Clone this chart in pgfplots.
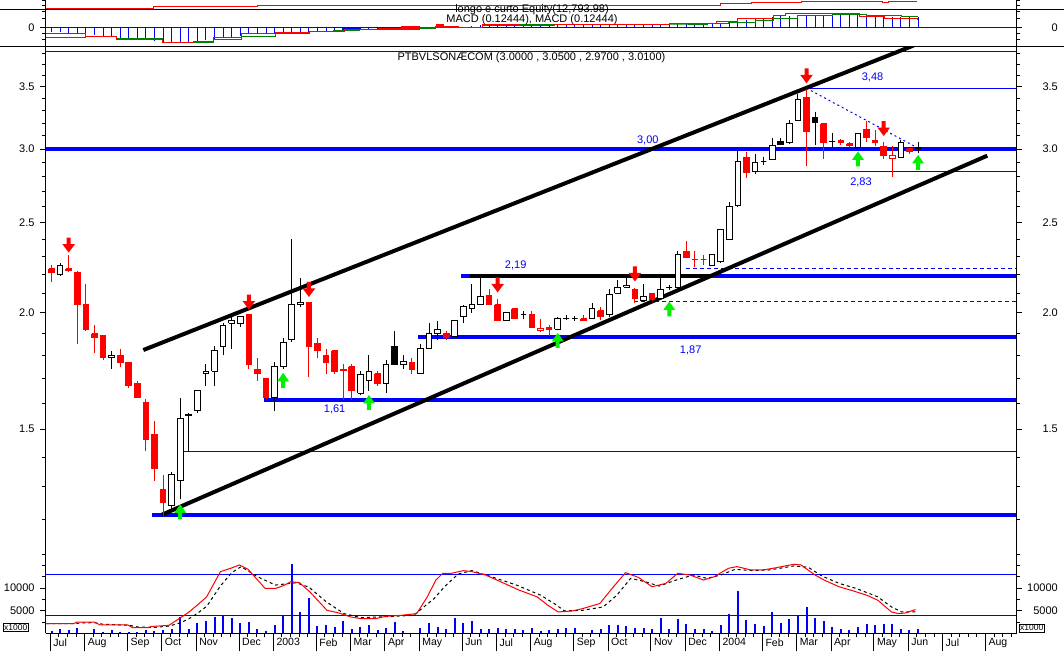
\documentclass[border=0pt]{standalone}
\usepackage{fontspec}
\setmainfont{Liberation Sans}
\usepackage{pgfplots}
\usepackage{pgfplotstable}
\pgfplotsset{compat=1.18}

\definecolor{sigup}{RGB}{0,240,0}
\newcommand\tickfont{\fontsize{11}{13}\selectfont}
\newcommand\monfont{\fontsize{10.5}{12}\selectfont}

% block arrows used as plot marks
\pgfdeclareplotmark{dnarrow}{%
  \pgfpathmoveto{\pgfqpoint{-2pt}{7.5pt}}%
  \pgfpathlineto{\pgfqpoint{2pt}{7.5pt}}%
  \pgfpathlineto{\pgfqpoint{2pt}{1pt}}%
  \pgfpathlineto{\pgfqpoint{6.3pt}{1pt}}%
  \pgfpathlineto{\pgfqpoint{0pt}{-7.5pt}}%
  \pgfpathlineto{\pgfqpoint{-6.3pt}{1pt}}%
  \pgfpathlineto{\pgfqpoint{-2pt}{1pt}}%
  \pgfpathclose\pgfusepathqfill}
\pgfdeclareplotmark{uparrow}{%
  \pgfpathmoveto{\pgfqpoint{-2pt}{-7.5pt}}%
  \pgfpathlineto{\pgfqpoint{2pt}{-7.5pt}}%
  \pgfpathlineto{\pgfqpoint{2pt}{-1pt}}%
  \pgfpathlineto{\pgfqpoint{6pt}{-1pt}}%
  \pgfpathlineto{\pgfqpoint{0pt}{7.5pt}}%
  \pgfpathlineto{\pgfqpoint{-6pt}{-1pt}}%
  \pgfpathlineto{\pgfqpoint{-2pt}{-1pt}}%
  \pgfpathclose\pgfusepathqfill}

% weekly candles; t: 0 up (hollow), 1 down (red), 2 black, 3 red hollow
\pgfplotstableread{
k O H L C t
0 2.23 2.25 2.16 2.21 1
1 2.20 2.26 2.19 2.25 0
2 2.23 2.31 2.21 2.22 1
3 2.21 2.22 1.85 2.04 1
4 2.04 2.15 1.91 1.92 1
5 1.90 1.94 1.81 1.88 1
6 1.89 1.89 1.78 1.79 1
7 1.79 1.82 1.74 1.80 0
8 1.80 1.83 1.75 1.77 1
9 1.77 1.77 1.66 1.67 1
10 1.68 1.69 1.62 1.62 1
11 1.60 1.615 1.42 1.46 1
12 1.48 1.53 1.32 1.36 1
13 1.29 1.34 1.21 1.25 1
14 1.24 1.35 1.23 1.34 0
15 1.32 1.62 1.26 1.54 0
16 1.55 1.56 1.42 1.555 0
17 1.57 1.65 1.56 1.65 0
18 1.72 1.76 1.67 1.73 0
19 1.73 1.84 1.67 1.82 0
20 1.84 1.95 1.80 1.94 0
21 1.95 1.99 1.83 1.96 0
22 1.95 1.98 1.93 1.98 0
23 1.99 1.99 1.74 1.76 1
24 1.74 1.79 1.69 1.72 1
25 1.70 1.70 1.615 1.62 1
26 1.62 1.77 1.57 1.75 0
27 1.75 1.88 1.74 1.86 0
28 1.87 2.40 1.86 2.04 0
29 2.04 2.18 2.03 2.05 0
30 2.05 2.05 1.705 1.84 1
31 1.855 1.88 1.79 1.82 1
32 1.80 1.83 1.72 1.77 1
33 1.82 1.82 1.72 1.73 1
34 1.74 1.76 1.61 1.735 1
35 1.75 1.76 1.61 1.65 1
36 1.64 1.73 1.63 1.715 0
37 1.69 1.80 1.65 1.73 0
38 1.72 1.73 1.67 1.68 1
39 1.68 1.78 1.64 1.76 0
40 1.84 1.91 1.76 1.76 2
41 1.76 1.80 1.74 1.775 0
42 1.77 1.79 1.72 1.74 1
43 1.72 1.85 1.72 1.83 0
44 1.83 1.95 1.83 1.90 0
45 1.90 1.96 1.87 1.92 0
46 1.90 1.91 1.87 1.88 1
47 1.885 1.96 1.885 1.96 0
48 1.98 2.04 1.95 2.03 0
49 2.02 2.15 2.00 2.04 0
50 2.04 2.18 2.04 2.08 0
51 2.09 2.12 2.04 2.04 1
52 2.04 2.07 1.96 1.96 1
53 1.96 2.00 1.96 2.00 0
54 2.02 2.02 1.97 1.97 1
55 1.99 2.01 1.97 1.99 0
56 1.99 2.01 1.93 1.93 1
57 1.925 1.97 1.905 1.915 3
58 1.93 1.94 1.89 1.92 1
59 1.92 1.98 1.915 1.97 0
60 1.973 1.99 1.965 1.973 0
61 1.97 1.986 1.962 1.97 0
62 1.97 1.99 1.96 1.96 1
63 1.97 2.05 1.97 2.02 0
64 2.01 2.03 1.965 1.98 1
65 1.99 2.12 1.98 2.095 0
66 2.10 2.17 2.10 2.13 0
67 2.13 2.18 2.13 2.14 0
68 2.12 2.125 2.05 2.07 1
69 2.06 2.15 2.055 2.08 0
70 2.10 2.10 2.06 2.065 1
71 2.07 2.18 2.065 2.12 0
72 2.13 2.14 2.115 2.13 0
73 2.13 2.33 2.125 2.31 0
74 2.33 2.39 2.295 2.295 1
75 2.28 2.33 2.24 2.28 1
76 2.28 2.31 2.25 2.28 1
77 2.25 2.31 2.25 2.31 0
78 2.27 2.46 2.265 2.455 0
79 2.40 2.63 2.40 2.605 0
80 2.61 2.99 2.60 2.91 0
81 2.94 2.975 2.79 2.83 1
82 2.84 2.96 2.82 2.90 0
83 2.91 2.94 2.88 2.91 0
84 2.92 3.08 2.92 3.025 0
85 3.06 3.08 3.03 3.03 2
86 3.045 3.22 3.04 3.195 0
87 3.22 3.44 3.215 3.39 0
88 3.41 3.48 2.875 3.13 1
89 3.24 3.29 3.03 3.20 2
90 3.195 3.195 2.925 3.05 1
91 3.054 3.118 3.013 3.054 2
92 3.065 3.075 3.03 3.05 1
93 3.04 3.055 3.015 3.025 1
94 3.01 3.12 3.01 3.12 0
95 3.15 3.215 3.055 3.09 1
96 3.065 3.145 3.02 3.045 1
97 3.02 3.055 2.925 2.955 1
98 2.955 3.02 2.80 2.93 3
99 2.94 3.065 2.94 3.05 0
100 3.00 3.01 2.96 2.98 1
101 3.00 3.05 2.97 3.01 0
}\ohlc

% turn every row into a wick and a body, both drawn with \addplot
\def\candles{}
\foreach \r in {0,...,101}{%
  \pgfplotstablegetelem{\r}{O}\of\ohlc \let\vO\pgfplotsretval
  \pgfplotstablegetelem{\r}{H}\of\ohlc \let\vH\pgfplotsretval
  \pgfplotstablegetelem{\r}{L}\of\ohlc \let\vL\pgfplotsretval
  \pgfplotstablegetelem{\r}{C}\of\ohlc \let\vC\pgfplotsretval
  \pgfplotstablegetelem{\r}{t}\of\ohlc \let\vT\pgfplotsretval
  \def\wc{black}\def\fc{white}%
  \ifnum\vT=1 \def\wc{red}\def\fc{red}\fi
  \ifnum\vT=2 \def\wc{black}\def\fc{black}\fi
  \ifnum\vT=3 \def\wc{red}\def\fc{white}\fi
  \pgfmathsetmacro\xa{\r-0.33}%
  \pgfmathsetmacro\xb{\r+0.33}%
  \xdef\candles{\unexpanded\expandafter{\candles}%
    \noexpand\addplot[draw=\wc, line width=1pt] coordinates {(\r,\vL) (\r,\vH)};%
    \noexpand\addplot[draw=\wc, fill=\fc, line width=1pt] coordinates {(\xa,\vO) (\xb,\vO) (\xb,\vC) (\xa,\vC) (\xa,\vO)};}%
}

% volume, x1000
\pgfplotstableread{
k v
0 500
1 880
2 730
3 1170
5 880
6 300
7 730
8 300
9 360
10 360
11 750
12 600
13 750
14 880
15 3536
16 1000
17 2210
18 2775
19 3525
20 4125
21 3300
22 2175
23 2400
24 1050
25 525
26 1800
27 3900
28 15340
29 4650
30 7875
31 1650
32 1800
33 1425
34 2625
35 1050
36 1350
37 1800
38 675
39 1125
40 2400
41 525
43 1275
44 2175
45 1350
46 900
47 3300
48 2175
49 2625
50 900
51 1050
52 1275
53 900
54 900
55 675
56 1275
57 525
58 675
59 900
60 1125
61 1125
63 825
64 1050
65 1800
66 1800
67 1575
68 1125
69 1125
70 900
71 3375
72 1050
73 3150
74 2025
75 900
76 900
77 525
78 1800
79 4200
80 9450
81 2925
82 2025
83 1650
84 4800
85 2250
86 3150
87 3750
88 5775
89 3375
90 2775
91 1350
92 1050
93 675
94 1350
95 2025
96 1800
97 2025
98 2025
99 900
100 675
101 1050
}\vol

% oscillator (solid red) and its average (dashed black)
\pgfplotstableread{
k v
-0.6 2117
2.6 2117
2.9 2490
5.0 2490
5.6 1890
8.85 1890
9.45 1230
11.25 1230
11.65 1520
13.66 1745
14.86 3230
15.87 4490
16.88 6050
18.08 8060
19.69 13630
20.89 14370
21.9 15110
22.9 14150
24.9 9910
26.1 9910
26.9 10430
27.9 11400
28.9 11180
30.1 9170
32.1 5090
33.5 4490
34.9 3600
36.1 3230
37.75 3230
38.95 3750
40.75 3970
42.56 4350
43.8 8060
44.8 11770
45.6 13260
46.6 13260
48.0 13850
49.0 13630
50.6 12880
52.6 11180
54.4 9620
56.6 8060
57.85 6200
59.05 4720
60.7 4940
61.9 5460
63.9 6570
65.5 10290
66.9 13400
68.4 12360
70.0 10290
71.6 11030
73.0 13260
74.4 12880
76.0 11770
77.25 12510
78.9 14370
79.9 14740
81.5 14000
82.9 14000
84.1 14370
86.55 15260
87.35 15110
89.0 12880
90.2 11620
91.8 10290
93.4 9390
95.0 8430
96.3 7320
97.9 4720
98.7 4350
99.5 4490
100.7 5240
}\stk

\pgfplotstableread{
k v
-0.6 2120
2.6 2120
3.5 2300
5.0 2350
6.0 2000
9.0 1800
10.0 1400
12.0 1300
13.7 1600
15.0 2300
16.0 3200
17.0 4400
18.1 6000
19.7 10500
21.0 13400
22.1 14740
24.0 12500
26.1 10660
28.5 11180
30.0 10200
32.0 7000
34.1 4350
36.1 3450
42.2 3970
44.6 7690
45.8 10290
47.4 13110
49.0 13850
51.0 12660
54.2 10660
57.0 8430
58.6 6570
59.8 4940
61.9 5090
64.3 5830
65.9 8430
67.5 12140
69.2 11400
70.8 10430
72.8 11770
74.8 12880
76.4 12140
78.0 12880
79.7 14150
81.7 13850
83.7 14000
86.55 14890
88.2 14590
89.8 12660
91.8 11030
93.8 9910
96.3 8060
97.9 5830
99.1 4720
100.7 4720
}\std

% MACD panel
\pgfplotstableread{
k v
0 -0.059
1 -0.068
2 -0.073
3 -0.082
4 -0.096
5 -0.105
6 -0.119
7 -0.128
8 -0.138
9 -0.151
10 -0.165
11 -0.174
12 -0.183
13 -0.197
14 -0.197
15 -0.197
16 -0.197
17 -0.183
18 -0.174
19 -0.160
20 -0.142
21 -0.128
22 -0.110
23 -0.091
24 -0.082
25 -0.073
26 -0.073
27 -0.073
28 -0.082
29 -0.082
30 -0.068
31 -0.059
32 -0.045
33 -0.045
34 -0.036
35 -0.036
36 -0.036
37 -0.027
38 -0.027
39 -0.027
40 -0.017
41 -0.013
42 -0.010
43 -0.008
44 -0.008
45 -0.004
46 -0.002
47 0.002
48 0.009
49 0.019
50 0.024
51 0.028
52 0.030
53 0.030
54 0.030
55 0.030
56 0.030
57 0.032
58 0.033
59 0.035
60 0.037
61 0.038
62 0.040
63 0.042
64 0.043
65 0.044
66 0.044
67 0.044
68 0.044
69 0.044
70 0.044
71 0.044
72 0.044
73 0.050
74 0.055
75 0.060
76 0.063
77 0.063
78 0.063
79 0.077
80 0.091
81 0.100
82 0.114
83 0.123
84 0.137
85 0.147
86 0.156
87 0.170
88 0.170
89 0.170
90 0.170
91 0.170
92 0.161
93 0.161
94 0.161
95 0.161
96 0.147
97 0.137
98 0.137
99 0.137
100 0.137
101 0.137
}\macdh

\pgfplotstableread{
k v
-0.64 -0.082
4.0 -0.128
7.6 -0.151
12.9 -0.197
15.7 -0.197
18.9 -0.165
22.1 -0.119
26.1 -0.082
30.1 -0.059
32.9 -0.045
35.9 -0.027
41.0 -0.022
44.8 -0.004
47.4 0.001
50.2 0.019
54.6 0.031
58.6 0.031
65.9 0.044
72.0 0.044
76.4 0.054
78.9 0.063
82.1 0.091
84.1 0.123
86.95 0.155
91.0 0.170
95.0 0.161
99.1 0.147
100.9 0.138
}\macdg

\pgfplotstableread{
k v
-0.64 -0.138
4.0 -0.119
7.6 -0.165
12.9 -0.206
15.7 -0.206
16.5 -0.188
18.9 -0.138
22.1 -0.082
26.1 -0.068
30.1 -0.050
34.2 -0.027
38.1 -0.017
41.0 -0.008
44.8 0.010
47.4 0.001
50.2 0.037
54.6 0.021
58.6 0.040
65.9 0.040
72.0 0.054
77.5 0.076
80.0 0.114
84.1 0.161
85.6 0.183
91.0 0.179
94.2 0.147
97.1 0.123
100.9 0.100
}\macdr

\pgfplotstableread{
k v
-0.7 0.258
11.83 0.276
23.95 0.285
39.8 0.298
78.0 0.318
81.6 0.330
87.4 0.342
96.9 0.338
97.5 0.346
100.9 0.346
}\equity

\pgfplotsset{
  panel/.style={scale only axis, anchor=south west, width=971pt,
    xmin=-0.68, xmax=112.5, axis x line=none, scaled y ticks=false,
    tick align=outside, major tick length=5.5pt, minor tick length=3.5pt,
    tick style={black, line width=0.8pt},
    axis line style={line width=1pt},
    yticklabel style={font=\tickfont}},
  lpanel/.style={panel, axis y line*=left,
    yticklabel style={anchor=east, inner sep=0pt, xshift=-5.5pt}},
  rpanel/.style={panel, axis y line*=right,
    yticklabel style={anchor=east, inner sep=0pt, xshift=35.8pt}},
  bare/.style={scale only axis, anchor=south west, width=971pt,
    xmin=-0.68, xmax=112.5, axis lines=none},
}

\begin{document}
\begin{tikzpicture}
\path[use as bounding box] (0pt,0pt) rectangle (1064pt,651pt);

% ---------- volume / oscillator ----------
\begin{axis}[lpanel, at={(45.7pt,17.7pt)}, height=88.3pt, ymin=0, ymax=19514,
    ytick={5000,10000}, yticklabels={5000,10000},
    minor ytick={2500,7500,12500,15000,17500}]
  \addplot[blue, line width=1pt] coordinates {(-0.68,12900) (112.5,12900)};
  \addplot[blue, line width=1pt] coordinates {(-0.68,4000) (112.5,4000)};
  \addplot[blue, ycomb, line width=2pt] table[x=k, y=v] {\vol};
  \addplot[black, line width=1pt, dash pattern=on 3pt off 3pt] table[x=k, y=v] {\std};
  \addplot[red, line width=1pt] table[x=k, y=v] {\stk};
\end{axis}
\begin{axis}[rpanel, at={(45.7pt,17.7pt)}, height=88.3pt, ymin=0, ymax=19514,
    ytick={5000,10000}, yticklabels={5000,10000},
    minor ytick={2500,7500,12500,15000,17500}]
  \addplot[draw=none] coordinates {(0,1000) (1,1000)};
\end{axis}
\begin{axis}[scale only axis, anchor=south west, at={(45.7pt,17.7pt)}, width=971pt, height=88.3pt,
    xmin=-0.68, xmax=112.5, ymin=0, ymax=1,
    axis y line=none, axis x line*=bottom, axis line style={line width=1pt},
    tick align=outside, major tick length=18pt, minor tick length=4pt,
    tick style={black, line width=0.8pt},
    xtick={-0.15,3.85,8.85,12.85,16.85,21.85,25.85,30.85,34.85,38.85,42.85,47.85,51.85,55.85,60.85,64.85,69.85,73.85,77.85,82.85,86.85,90.85,95.85,99.85,103.85,108.85},
    xticklabels={Jul,Aug,Sep,Oct,Nov,Dec,2003,Feb,Mar,Apr,May,Jun,Jul,Aug,Sep,Oct,Nov,Dec,2004,Feb,Mar,Apr,May,Jun,Jul,Aug},
    minor xtick={-0.15,0.85,...,111.85},
    xticklabel style={font=\monfont, anchor=north west, inner sep=0pt, xshift=3pt, yshift=13pt}]
  \addplot[draw=none] coordinates {(0,0.5) (1,0.5)};
\end{axis}

% ---------- price: levels ----------
\begin{axis}[lpanel, at={(45.7pt,91pt)}, height=513.3pt, ymode=log,
    ymin=1.0847, ymax=3.865,
    ytick={1.5,2,2.5,3,3.5}, yticklabels={1.5,2.0,2.5,3.0,3.5},
    minor ytick={1.1,1.2,1.3,1.4,1.6,1.7,1.8,1.9,2.1,2.2,2.3,2.4,2.6,2.7,2.8,2.9,3.1,3.2,3.3,3.4,3.6,3.7,3.8}]
  \addplot[blue, line width=1pt] coordinates {(-0.68,3.817) (112.5,3.817)};
  \addplot[blue, line width=4pt] coordinates {(-0.68,3.0) (112.5,3.0)};
  \addplot[blue, line width=4pt] coordinates {(47.7,2.19) (112.5,2.19)};
  \addplot[blue, line width=4pt] coordinates {(42.75,1.883) (112.5,1.883)};
  \addplot[blue, line width=4pt] coordinates {(24.77,1.612) (112.5,1.612)};
  \addplot[blue, line width=4pt] coordinates {(11.75,1.213) (112.5,1.213)};
  \addplot[blue, line width=1pt] coordinates {(88,3.487) (112.5,3.487)};
  \addplot[blue, line width=1pt] coordinates {(81.8,2.84) (112.5,2.84)};
  \addplot[blue, line width=1pt] coordinates {(14.9,1.42) (112.5,1.42)};
  \addplot[blue, line width=1pt, dash pattern=on 4pt off 3pt] coordinates {(74.0,2.233) (112.5,2.233)};
  \addplot[blue, line width=1pt, dash pattern=on 4pt off 3pt] coordinates {(67.9,2.056) (112.5,2.056)};
  \addplot[blue, line width=1pt, dash pattern=on 2pt off 3pt] coordinates {(88,3.487) (100.8,3.013)};
  \addplot[black, line width=4pt] coordinates {(48.8,2.19) (76.7,2.19)};
  \addplot[black, line width=4pt] coordinates {(10.7,1.824) (100.5,3.877)};
  \addplot[black, line width=4pt] coordinates {(12.84,1.213) (109.07,2.951)};
\end{axis}
\begin{axis}[rpanel, at={(45.7pt,91pt)}, height=513.3pt, ymode=log,
    ymin=1.0847, ymax=3.865,
    ytick={1.5,2,2.5,3,3.5}, yticklabels={1.5,2.0,2.5,3.0,3.5},
    minor ytick={1.1,1.2,1.3,1.4,1.6,1.7,1.8,1.9,2.1,2.2,2.3,2.4,2.6,2.7,2.8,2.9,3.1,3.2,3.3,3.4,3.6,3.7,3.8}]
  \addplot[draw=none] coordinates {(0,2) (1,2)};
\end{axis}

% ---------- price: candles ----------
\begin{axis}[bare, at={(45.7pt,91pt)}, height=513.3pt, ymode=log, ymin=1.0847, ymax=3.865]
  \candles
\end{axis}

% ---------- price: signals ----------
\begin{axis}[bare, at={(45.7pt,91pt)}, height=513.3pt, ymode=log, ymin=1.0847, ymax=3.865]
  \addplot[red, only marks, mark=dnarrow] coordinates {(2,2.365) (23,2.054) (30,2.119) (52,2.143) (68,2.202) (88,3.596) (97,3.156)};
  \addplot[sigup, only marks, mark=uparrow] coordinates {(15,1.222) (27,1.692) (37,1.602) (59,1.868) (72,2.019) (94,2.927) (101,2.902)};
\end{axis}

% ---------- price: level labels ----------
\begin{axis}[bare, at={(45.7pt,91pt)}, height=513.3pt, ymode=log, ymin=1.0847, ymax=3.865]
  \addplot[draw=none] coordinates {(0,2) (1,2)};
  \node[blue, font=\tickfont, inner sep=0pt] at (axis cs:69.5,3.067) {3,00};
  \node[blue, font=\tickfont, inner sep=0pt] at (axis cs:95.7,3.583) {3,48};
  \node[blue, font=\tickfont, inner sep=0pt] at (axis cs:94.35,2.763) {2,83};
  \node[blue, font=\tickfont, inner sep=0pt] at (axis cs:54.1,2.251) {2,19};
  \node[blue, font=\tickfont, inner sep=0pt] at (axis cs:74.5,1.824) {1,87};
  \node[blue, font=\tickfont, inner sep=0pt] at (axis cs:33.0,1.576) {1,61};
\end{axis}

% ---------- MACD ----------
\begin{axis}[lpanel, at={(45.7pt,604.3pt)}, height=46.7pt, ymin=-0.2596, ymax=0.3653,
    ytick={0}, yticklabels={0},
    minor ytick={-0.165,-0.083,0.124,0.218,0.296,0.356}]
  \addplot[red, line width=1pt, const plot] table[x=k, y=v] {\equity};
  \addplot[blue, line width=1pt] coordinates {(-0.68,0) (112.5,0)};
  \addplot[blue, ycomb, line width=1pt] table[x=k, y=v] {\macdh};
  \addplot[blue, line width=3.5pt] coordinates {(33.9,-0.022) (36,-0.022)};
  \addplot[green!50!black, line width=1pt, const plot] table[x=k, y=v] {\macdg};
  \addplot[red, line width=1pt, const plot] table[x=k, y=v] {\macdr};
  \addplot[red, line width=4.5pt] coordinates {(40.7,-0.008) (42.9,-0.008)};
  \addplot[red, line width=3pt] coordinates {(44.8,0.028) (45.8,0.028)};
\end{axis}
\begin{axis}[rpanel, at={(45.7pt,604.3pt)}, height=46.7pt, ymin=-0.2596, ymax=0.3653,
    ytick={0}, yticklabels={0},
    minor ytick={-0.165,-0.083,0.124,0.218,0.296,0.356}]
  \addplot[draw=none] coordinates {(0,0) (1,0)};
\end{axis}

% panel separators and captions
\draw[line width=1pt] (0pt,641pt) -- (1064pt,641pt);
\draw[line width=1pt] (0pt,604.3pt) -- (1064pt,604.3pt);
\node[font=\fontsize{11}{13}\selectfont, inner sep=0pt] at (532pt,641pt) {longo e curto Equity(12,793.98)};
\node[font=\fontsize{11}{13}\selectfont, inner sep=0pt] at (532pt,631pt) {MACD (0.12444), MACD (0.12444)};
\node[font=\fontsize{11}{13}\selectfont, inner sep=0pt] at (531.5pt,593.3pt) {PTBVLSONÆCOM (3.0000 , 3.0500 , 2.9700 , 3.0100)};
\node[draw, line width=0.8pt, font=\fontsize{8.5}{10}\selectfont, inner sep=1pt, anchor=south west] at (2.7pt,19.5pt) {x1000};
\node[draw, line width=0.8pt, font=\fontsize{8.5}{10}\selectfont, inner sep=1pt, anchor=south west] at (1018.7pt,18.6pt) {x1000};
\end{tikzpicture}
\end{document}
